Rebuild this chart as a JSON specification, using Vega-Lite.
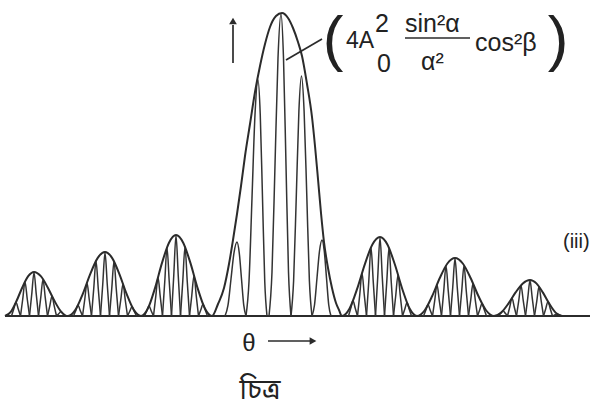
{
  "$schema": "https://vega.github.io/schema/vega-lite/v6.json",
  "width": 594,
  "height": 413,
  "padding": 0,
  "autosize": {"type": "fit", "contains": "padding"},
  "background": "white",
  "config": {"view": {"stroke": null}},
  "datasets": {
    "envelope": [
      {"x": 5, "y": 0}, {"x": 10.8, "y": 4.2}, {"x": 16.6, "y": 15.2}, {"x": 22.4, "y": 28.8}, {"x": 28.2, "y": 39.8}, {"x": 34, "y": 44},
      {"x": 40.8, "y": 39.8}, {"x": 47.6, "y": 28.8}, {"x": 54.4, "y": 15.2}, {"x": 61.2, "y": 4.2}, {"x": 68, "y": 0},
      {"x": 75.4, "y": 6.1}, {"x": 82.8, "y": 22.1}, {"x": 90.2, "y": 41.9}, {"x": 97.6, "y": 57.9}, {"x": 105, "y": 64},
      {"x": 112.2, "y": 57.9}, {"x": 119.4, "y": 41.9}, {"x": 126.6, "y": 22.1}, {"x": 133.8, "y": 6.1}, {"x": 141, "y": 0},
      {"x": 148, "y": 7.7}, {"x": 155, "y": 27.9}, {"x": 162, "y": 53.1}, {"x": 169, "y": 73.3}, {"x": 176, "y": 81},
      {"x": 183.2, "y": 73.3}, {"x": 190.4, "y": 53.1}, {"x": 197.6, "y": 27.9}, {"x": 204.8, "y": 7.7}, {"x": 212, "y": 0},
      {"x": 218, "y": 12}, {"x": 224, "y": 28}, {"x": 229, "y": 52}, {"x": 233, "y": 76}, {"x": 237, "y": 102}, {"x": 241, "y": 130},
      {"x": 245, "y": 160}, {"x": 250, "y": 192}, {"x": 255, "y": 224}, {"x": 260, "y": 250}, {"x": 265, "y": 272}, {"x": 270, "y": 289},
      {"x": 276, "y": 300}, {"x": 282, "y": 303}, {"x": 288, "y": 298}, {"x": 293, "y": 288}, {"x": 298, "y": 274}, {"x": 302, "y": 260},
      {"x": 307, "y": 232}, {"x": 312, "y": 199}, {"x": 315, "y": 170}, {"x": 318, "y": 137}, {"x": 321, "y": 103}, {"x": 324, "y": 74},
      {"x": 328, "y": 48}, {"x": 332, "y": 28}, {"x": 336, "y": 13}, {"x": 339, "y": 6}, {"x": 342, "y": 0},
      {"x": 349.6, "y": 7.5}, {"x": 357.2, "y": 27.3}, {"x": 364.8, "y": 51.7}, {"x": 372.4, "y": 71.5}, {"x": 380, "y": 79},
      {"x": 387.4, "y": 71.5}, {"x": 394.8, "y": 51.7}, {"x": 402.2, "y": 27.3}, {"x": 409.6, "y": 7.5}, {"x": 417, "y": 0},
      {"x": 424.6, "y": 5.5}, {"x": 432.2, "y": 20}, {"x": 439.8, "y": 38}, {"x": 447.4, "y": 52.5}, {"x": 455, "y": 58},
      {"x": 462.8, "y": 52.5}, {"x": 470.6, "y": 38}, {"x": 478.4, "y": 20}, {"x": 486.2, "y": 5.5}, {"x": 494, "y": 0},
      {"x": 501.2, "y": 3.4}, {"x": 508.4, "y": 12.4}, {"x": 515.6, "y": 23.6}, {"x": 522.8, "y": 32.6}, {"x": 530, "y": 36},
      {"x": 536.4, "y": 32.6}, {"x": 542.8, "y": 23.6}, {"x": 549.2, "y": 12.4}, {"x": 555.6, "y": 3.4}, {"x": 562, "y": 0}
    ],
    "fringes": [
      {"g": "m1", "x": 225, "y": 0}, {"g": "m1", "x": 228, "y": 10.8}, {"g": "m1", "x": 231, "y": 37}, {"g": "m1", "x": 234, "y": 63.2}, {"g": "m1", "x": 237, "y": 74}, {"g": "m1", "x": 239.25, "y": 63.2}, {"g": "m1", "x": 241.5, "y": 37}, {"g": "m1", "x": 243.75, "y": 10.8}, {"g": "m1", "x": 246, "y": 0},
      {"g": "m2", "x": 246, "y": 0}, {"g": "m2", "x": 249, "y": 34.5}, {"g": "m2", "x": 252, "y": 118}, {"g": "m2", "x": 255, "y": 201.5}, {"g": "m2", "x": 258, "y": 236}, {"g": "m2", "x": 260.25, "y": 201.5}, {"g": "m2", "x": 262.5, "y": 118}, {"g": "m2", "x": 264.75, "y": 34.5}, {"g": "m2", "x": 267, "y": 0},
      {"g": "m3", "x": 269, "y": 0}, {"g": "m3", "x": 272, "y": 44}, {"g": "m3", "x": 275, "y": 151}, {"g": "m3", "x": 278, "y": 258}, {"g": "m3", "x": 281, "y": 302}, {"g": "m3", "x": 283.5, "y": 258}, {"g": "m3", "x": 286, "y": 151}, {"g": "m3", "x": 288.5, "y": 44}, {"g": "m3", "x": 291, "y": 0},
      {"g": "m4", "x": 291, "y": 0}, {"g": "m4", "x": 293.6, "y": 35}, {"g": "m4", "x": 296.3, "y": 120}, {"g": "m4", "x": 298.9, "y": 205}, {"g": "m4", "x": 301.5, "y": 240}, {"g": "m4", "x": 304.1, "y": 205}, {"g": "m4", "x": 306.8, "y": 120}, {"g": "m4", "x": 309.4, "y": 35}, {"g": "m4", "x": 312, "y": 0},
      {"g": "m5", "x": 312, "y": 0}, {"g": "m5", "x": 314.5, "y": 11}, {"g": "m5", "x": 317, "y": 38}, {"g": "m5", "x": 319.5, "y": 65}, {"g": "m5", "x": 322, "y": 76}, {"g": "m5", "x": 324.25, "y": 65}, {"g": "m5", "x": 326.5, "y": 38}, {"g": "m5", "x": 328.75, "y": 11}, {"g": "m5", "x": 331, "y": 0},

      {"g": "s1", "x": 11.5, "y": 0}, {"g": "s1", "x": 13.75, "y": 6.9}, {"g": "s1", "x": 16, "y": 13.8}, {"g": "s1", "x": 18.25, "y": 6.9}, {"g": "s1", "x": 20.5, "y": 0},
      {"g": "s2", "x": 20.5, "y": 0}, {"g": "s2", "x": 22.75, "y": 17}, {"g": "s2", "x": 25, "y": 34}, {"g": "s2", "x": 27.25, "y": 17}, {"g": "s2", "x": 29.5, "y": 0},
      {"g": "s3", "x": 29.5, "y": 0}, {"g": "s3", "x": 31.75, "y": 21.8}, {"g": "s3", "x": 34, "y": 43.5}, {"g": "s3", "x": 36.25, "y": 21.8}, {"g": "s3", "x": 38.5, "y": 0},
      {"g": "s4", "x": 38.5, "y": 0}, {"g": "s4", "x": 40.75, "y": 18.3}, {"g": "s4", "x": 43, "y": 36.5}, {"g": "s4", "x": 45.25, "y": 18.3}, {"g": "s4", "x": 47.5, "y": 0},
      {"g": "s5", "x": 47.5, "y": 0}, {"g": "s5", "x": 49.75, "y": 9.9}, {"g": "s5", "x": 52, "y": 19.8}, {"g": "s5", "x": 54.25, "y": 9.9}, {"g": "s5", "x": 56.5, "y": 0},
      {"g": "s6", "x": 56.5, "y": 0}, {"g": "s6", "x": 58.75, "y": 2.2}, {"g": "s6", "x": 61, "y": 4.4}, {"g": "s6", "x": 63.25, "y": 2.2}, {"g": "s6", "x": 65.5, "y": 0},
      {"g": "s7", "x": 73.5, "y": 0}, {"g": "s7", "x": 75.75, "y": 5.4}, {"g": "s7", "x": 78, "y": 10.8}, {"g": "s7", "x": 80.25, "y": 5.4}, {"g": "s7", "x": 82.5, "y": 0},
      {"g": "s8", "x": 82.5, "y": 0}, {"g": "s8", "x": 84.75, "y": 16.5}, {"g": "s8", "x": 87, "y": 33}, {"g": "s8", "x": 89.25, "y": 16.5}, {"g": "s8", "x": 91.5, "y": 0},
      {"g": "s9", "x": 91.5, "y": 0}, {"g": "s9", "x": 93.75, "y": 27.5}, {"g": "s9", "x": 96, "y": 55}, {"g": "s9", "x": 98.25, "y": 27.5}, {"g": "s9", "x": 100.5, "y": 0},
      {"g": "s10", "x": 100.5, "y": 0}, {"g": "s10", "x": 102.75, "y": 31.8}, {"g": "s10", "x": 105, "y": 63.5}, {"g": "s10", "x": 107.25, "y": 31.8}, {"g": "s10", "x": 109.5, "y": 0},
      {"g": "s11", "x": 109.5, "y": 0}, {"g": "s11", "x": 111.75, "y": 27.3}, {"g": "s11", "x": 114, "y": 54.5}, {"g": "s11", "x": 116.25, "y": 27.3}, {"g": "s11", "x": 118.5, "y": 0},
      {"g": "s12", "x": 118.5, "y": 0}, {"g": "s12", "x": 120.75, "y": 16}, {"g": "s12", "x": 123, "y": 32}, {"g": "s12", "x": 125.25, "y": 16}, {"g": "s12", "x": 127.5, "y": 0},
      {"g": "s13", "x": 127.5, "y": 0}, {"g": "s13", "x": 129.75, "y": 4.7}, {"g": "s13", "x": 132, "y": 9.3}, {"g": "s13", "x": 134.25, "y": 4.7}, {"g": "s13", "x": 136.5, "y": 0},
      {"g": "s14", "x": 144.5, "y": 0}, {"g": "s14", "x": 146.75, "y": 5}, {"g": "s14", "x": 149, "y": 10}, {"g": "s14", "x": 151.25, "y": 5}, {"g": "s14", "x": 153.5, "y": 0},
      {"g": "s15", "x": 153.5, "y": 0}, {"g": "s15", "x": 155.75, "y": 19.3}, {"g": "s15", "x": 158, "y": 38.5}, {"g": "s15", "x": 160.25, "y": 19.3}, {"g": "s15", "x": 162.5, "y": 0},
      {"g": "s16", "x": 162.5, "y": 0}, {"g": "s16", "x": 164.75, "y": 34.2}, {"g": "s16", "x": 167, "y": 68.3}, {"g": "s16", "x": 169.25, "y": 34.2}, {"g": "s16", "x": 171.5, "y": 0},
      {"g": "s17", "x": 171.5, "y": 0}, {"g": "s17", "x": 173.75, "y": 40.3}, {"g": "s17", "x": 176, "y": 80.5}, {"g": "s17", "x": 178.25, "y": 40.3}, {"g": "s17", "x": 180.5, "y": 0},
      {"g": "s18", "x": 180.5, "y": 0}, {"g": "s18", "x": 182.75, "y": 34.5}, {"g": "s18", "x": 185, "y": 69}, {"g": "s18", "x": 187.25, "y": 34.5}, {"g": "s18", "x": 189.5, "y": 0},
      {"g": "s19", "x": 189.5, "y": 0}, {"g": "s19", "x": 191.75, "y": 20.2}, {"g": "s19", "x": 194, "y": 40.3}, {"g": "s19", "x": 196.25, "y": 20.2}, {"g": "s19", "x": 198.5, "y": 0},
      {"g": "s20", "x": 198.5, "y": 0}, {"g": "s20", "x": 200.75, "y": 5.9}, {"g": "s20", "x": 203, "y": 11.8}, {"g": "s20", "x": 205.25, "y": 5.9}, {"g": "s20", "x": 207.5, "y": 0},
      {"g": "s21", "x": 348.5, "y": 0}, {"g": "s21", "x": 350.75, "y": 7.7}, {"g": "s21", "x": 353, "y": 15.3}, {"g": "s21", "x": 355.25, "y": 7.7}, {"g": "s21", "x": 357.5, "y": 0},
      {"g": "s22", "x": 357.5, "y": 0}, {"g": "s22", "x": 359.75, "y": 21.4}, {"g": "s22", "x": 362, "y": 42.7}, {"g": "s22", "x": 364.25, "y": 21.4}, {"g": "s22", "x": 366.5, "y": 0},
      {"g": "s23", "x": 366.5, "y": 0}, {"g": "s23", "x": 368.75, "y": 34.3}, {"g": "s23", "x": 371, "y": 68.5}, {"g": "s23", "x": 373.25, "y": 34.3}, {"g": "s23", "x": 375.5, "y": 0},
      {"g": "s24", "x": 375.5, "y": 0}, {"g": "s24", "x": 377.75, "y": 39.3}, {"g": "s24", "x": 380, "y": 78.5}, {"g": "s24", "x": 382.25, "y": 39.3}, {"g": "s24", "x": 384.5, "y": 0},
      {"g": "s25", "x": 384.5, "y": 0}, {"g": "s25", "x": 386.75, "y": 34}, {"g": "s25", "x": 389, "y": 68}, {"g": "s25", "x": 391.25, "y": 34}, {"g": "s25", "x": 393.5, "y": 0},
      {"g": "s26", "x": 393.5, "y": 0}, {"g": "s26", "x": 395.75, "y": 20.5}, {"g": "s26", "x": 398, "y": 41}, {"g": "s26", "x": 400.25, "y": 20.5}, {"g": "s26", "x": 402.5, "y": 0},
      {"g": "s27", "x": 402.5, "y": 0}, {"g": "s27", "x": 404.75, "y": 6.7}, {"g": "s27", "x": 407, "y": 13.3}, {"g": "s27", "x": 409.25, "y": 6.7}, {"g": "s27", "x": 411.5, "y": 0},
      {"g": "s28", "x": 423.5, "y": 0}, {"g": "s28", "x": 425.75, "y": 5.6}, {"g": "s28", "x": 428, "y": 11.2}, {"g": "s28", "x": 430.25, "y": 5.6}, {"g": "s28", "x": 432.5, "y": 0},
      {"g": "s29", "x": 432.5, "y": 0}, {"g": "s29", "x": 434.75, "y": 15.7}, {"g": "s29", "x": 437, "y": 31.3}, {"g": "s29", "x": 439.25, "y": 15.7}, {"g": "s29", "x": 441.5, "y": 0},
      {"g": "s30", "x": 441.5, "y": 0}, {"g": "s30", "x": 443.75, "y": 25.1}, {"g": "s30", "x": 446, "y": 50.2}, {"g": "s30", "x": 448.25, "y": 25.1}, {"g": "s30", "x": 450.5, "y": 0},
      {"g": "s31", "x": 450.5, "y": 0}, {"g": "s31", "x": 452.75, "y": 28.8}, {"g": "s31", "x": 455, "y": 57.5}, {"g": "s31", "x": 457.25, "y": 28.8}, {"g": "s31", "x": 459.5, "y": 0},
      {"g": "s32", "x": 459.5, "y": 0}, {"g": "s32", "x": 461.75, "y": 25.3}, {"g": "s32", "x": 464, "y": 50.6}, {"g": "s32", "x": 466.25, "y": 25.3}, {"g": "s32", "x": 468.5, "y": 0},
      {"g": "s33", "x": 468.5, "y": 0}, {"g": "s33", "x": 470.75, "y": 16.2}, {"g": "s33", "x": 473, "y": 32.4}, {"g": "s33", "x": 475.25, "y": 16.2}, {"g": "s33", "x": 477.5, "y": 0},
      {"g": "s34", "x": 477.5, "y": 0}, {"g": "s34", "x": 479.75, "y": 6.3}, {"g": "s34", "x": 482, "y": 12.5}, {"g": "s34", "x": 484.25, "y": 6.3}, {"g": "s34", "x": 486.5, "y": 0},
      {"g": "s35", "x": 498.5, "y": 0}, {"g": "s35", "x": 500.75, "y": 2.7}, {"g": "s35", "x": 503, "y": 5.3}, {"g": "s35", "x": 505.25, "y": 2.7}, {"g": "s35", "x": 507.5, "y": 0},
      {"g": "s36", "x": 507.5, "y": 0}, {"g": "s36", "x": 509.75, "y": 9}, {"g": "s36", "x": 512, "y": 18}, {"g": "s36", "x": 514.25, "y": 9}, {"g": "s36", "x": 516.5, "y": 0},
      {"g": "s37", "x": 516.5, "y": 0}, {"g": "s37", "x": 518.75, "y": 15.3}, {"g": "s37", "x": 521, "y": 30.6}, {"g": "s37", "x": 523.25, "y": 15.3}, {"g": "s37", "x": 525.5, "y": 0},
      {"g": "s38", "x": 525.5, "y": 0}, {"g": "s38", "x": 527.75, "y": 17.8}, {"g": "s38", "x": 530, "y": 35.5}, {"g": "s38", "x": 532.25, "y": 17.8}, {"g": "s38", "x": 534.5, "y": 0},
      {"g": "s39", "x": 534.5, "y": 0}, {"g": "s39", "x": 536.75, "y": 14.7}, {"g": "s39", "x": 539, "y": 29.3}, {"g": "s39", "x": 541.25, "y": 14.7}, {"g": "s39", "x": 543.5, "y": 0},
      {"g": "s40", "x": 543.5, "y": 0}, {"g": "s40", "x": 545.75, "y": 7.3}, {"g": "s40", "x": 548, "y": 14.5}, {"g": "s40", "x": 550.25, "y": 7.3}, {"g": "s40", "x": 552.5, "y": 0},
      {"g": "s41", "x": 552.5, "y": 0}, {"g": "s41", "x": 554.75, "y": 1.1}, {"g": "s41", "x": 557, "y": 2.1}, {"g": "s41", "x": 559.25, "y": 1.1}, {"g": "s41", "x": 561.5, "y": 0}
    ]
  },
  "encoding": {
    "x": {"field": "x", "type": "quantitative", "scale": {"domain": [0, 594], "nice": false, "zero": false}, "axis": null},
    "y": {"field": "y", "type": "quantitative", "scale": {"domain": [-97, 316], "nice": false, "zero": false}, "axis": null}
  },
  "layer": [
    {
      "data": {"values": [
        {"x": 5, "x2": 590, "y": 0, "y2": 0}
      ]},
      "mark": {"type": "rule", "color": "#2b2b2b", "strokeWidth": 2},
      "encoding": {"x2": {"field": "x2"}, "y2": {"field": "y2"}}
    },
    {
      "data": {"name": "fringes"},
      "mark": {"type": "line", "interpolate": "monotone", "color": "#333333", "strokeWidth": 1.5},
      "encoding": {"detail": {"field": "g", "type": "nominal"}}
    },
    {
      "data": {"name": "envelope"},
      "mark": {"type": "line", "interpolate": "monotone", "color": "#2b2b2b", "strokeWidth": 2},
      "encoding": {}
    },
    {
      "data": {"values": [
        {"x": 405, "x2": 470, "y": 278, "y2": 278},
        {"x": 233, "x2": 233, "y": 253, "y2": 291},
        {"x": 286, "x2": 322, "y": 256, "y2": 277},
        {"x": 268, "x2": 310, "y": -25, "y2": -25}
      ]},
      "mark": {"type": "rule", "color": "#2b2b2b", "strokeWidth": 1.7},
      "encoding": {"x2": {"field": "x2"}, "y2": {"field": "y2"}}
    },
    {
      "data": {"values": [{"x": 233, "y": 295}]},
      "mark": {"type": "point", "shape": "triangle-up", "size": 60, "filled": true, "color": "#2b2b2b", "opacity": 1}
    },
    {
      "data": {"values": [{"x": 313, "y": -25}]},
      "mark": {"type": "point", "shape": "triangle-right", "size": 60, "filled": true, "color": "#2b2b2b", "opacity": 1}
    },
    {
      "data": {"values": [
        {"t": "(", "x": 333, "y": 257},
        {"t": ")", "x": 558, "y": 257}
      ]},
      "mark": {"type": "text", "font": "Liberation Sans", "fontSize": 62, "align": "center", "baseline": "alphabetic", "color": "#222222"},
      "encoding": {"text": {"field": "t"}}
    },
    {
      "data": {"values": [
        {"t": "4A", "x": 346, "y": 268}
      ]},
      "mark": {"type": "text", "font": "Liberation Sans", "fontSize": 23, "align": "left", "baseline": "alphabetic", "color": "#222222"},
      "encoding": {"text": {"field": "t"}}
    },
    {
      "data": {"values": [
        {"t": "2", "x": 375, "y": 284},
        {"t": "0", "x": 377, "y": 244},
        {"t": "sin²α", "x": 405, "y": 284},
        {"t": "α²", "x": 421, "y": 246},
        {"t": "cos²β", "x": 475, "y": 265}
      ]},
      "mark": {"type": "text", "font": "Liberation Sans", "fontSize": 25, "align": "left", "baseline": "alphabetic", "color": "#222222"},
      "encoding": {"text": {"field": "t"}}
    },
    {
      "data": {"values": [{"t": "(iii)", "x": 563, "y": 68}]},
      "mark": {"type": "text", "font": "Liberation Sans", "fontSize": 20, "align": "left", "baseline": "alphabetic", "color": "#222222"},
      "encoding": {"text": {"field": "t"}}
    },
    {
      "data": {"values": [{"t": "θ", "x": 249, "y": -35}]},
      "mark": {"type": "text", "font": "Liberation Sans", "fontSize": 24, "align": "center", "baseline": "alphabetic", "color": "#222222"},
      "encoding": {"text": {"field": "t"}}
    },
    {
      "data": {"values": [{"t": "চিত্র", "x": 260, "y": -83}]},
      "mark": {"type": "text", "font": "Noto Sans Bengali, Lohit Bengali, FreeSans, sans-serif", "fontSize": 28, "align": "center", "baseline": "alphabetic", "color": "#222222"},
      "encoding": {"text": {"field": "t"}}
    }
  ]
}
